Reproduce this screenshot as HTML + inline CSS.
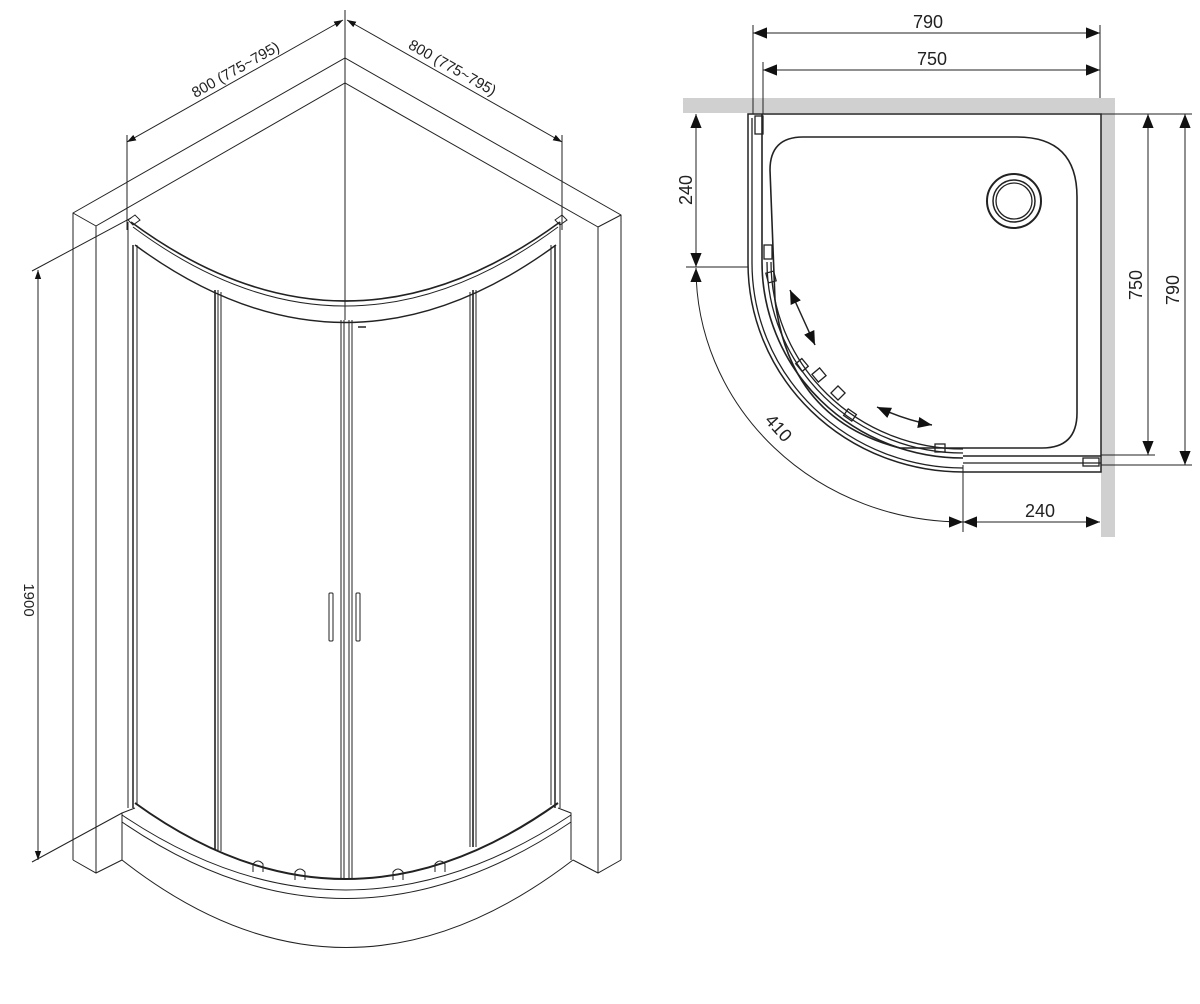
<!DOCTYPE html>
<html><head><meta charset="utf-8"><style>
html,body{margin:0;padding:0;background:#fff;width:1200px;height:1004px;overflow:hidden}
svg{display:block}
text{font-family:"Liberation Sans",sans-serif;fill:#222}
</style></head><body>
<svg width="1200" height="1004" viewBox="0 0 1200 1004" xmlns="http://www.w3.org/2000/svg">
<defs>
<marker id="a" viewBox="0 0 10 10" refX="10" refY="5" markerWidth="9" markerHeight="9" orient="auto-start-reverse" markerUnits="userSpaceOnUse"><path d="M0,1.5 L10,5 L0,8.5z" fill="#111"/></marker>
<marker id="b" viewBox="0 0 10 10" refX="10" refY="5" markerWidth="14" markerHeight="14" orient="auto-start-reverse" markerUnits="userSpaceOnUse"><path d="M0,1 L10,5 L0,9z" fill="#111"/></marker>
</defs>
<g fill="none" stroke="#222" stroke-width="1">
<line x1="345" y1="10" x2="345" y2="320"/>
<line x1="127" y1="135" x2="127" y2="230"/>
<line x1="562" y1="135" x2="562" y2="230"/>
<line x1="127" y1="142" x2="343" y2="20" marker-start="url(#a)" marker-end="url(#a)"/>
<line x1="347" y1="20" x2="562" y2="142" marker-start="url(#a)" marker-end="url(#a)"/>
<polyline points="73,860 73,213 345,58 621,215 621,860"/>
<polyline points="96,873 96,226 345,83 598,227 598,873"/>
<line x1="73" y1="213" x2="96" y2="226"/>
<line x1="621" y1="215" x2="598" y2="227"/>
<polyline points="73,860 96,873 122,860"/>
<polyline points="621,860 598,873 573,860"/>
<line x1="32" y1="271" x2="131" y2="218"/>
<line x1="32" y1="862" x2="122" y2="813"/>
<line x1="38" y1="270" x2="38" y2="860" marker-start="url(#a)" marker-end="url(#a)"/>
<path d="M131,222 Q345,380 560,222" stroke-width="1.6"/>
<path d="M133,227 Q345,385 558,227"/>
<path d="M135,245 Q345,400 556,245" stroke-width="1.4"/>
<path d="M128,220 L135,215 L140,220 L133,225z"/>
<path d="M555,220 L562,215 L567,220 L560,225z"/>
<line x1="128" y1="222" x2="128" y2="808"/>
<line x1="133" y1="245" x2="133" y2="808" stroke-width="1.5"/>
<line x1="137" y1="245" x2="137" y2="805"/>
<line x1="560" y1="222" x2="560" y2="808"/>
<line x1="555" y1="245" x2="555" y2="808" stroke-width="1.5"/>
<line x1="551" y1="245" x2="551" y2="805"/>
<line x1="215" y1="290" x2="215" y2="850" stroke-width="1.6"/>
<line x1="218" y1="290" x2="218" y2="850"/>
<line x1="221" y1="292" x2="221" y2="851"/>
<line x1="470" y1="292" x2="470" y2="847"/>
<line x1="473" y1="290" x2="473" y2="847" stroke-width="1.6"/>
<line x1="476" y1="290" x2="476" y2="847"/>
<line x1="341" y1="320" x2="341" y2="878"/>
<line x1="344" y1="320" x2="344" y2="878"/>
<line x1="349" y1="320" x2="349" y2="878"/>
<line x1="352" y1="320" x2="352" y2="878"/>
<line x1="358" y1="327" x2="366" y2="327" stroke-width="1.5"/>
<rect x="329" y="593" width="4" height="48" rx="1"/>
<rect x="356" y="593" width="4" height="48" rx="1"/>
<path d="M135,803 Q345,955 558,803" stroke-width="2"/>
<polyline points="122,860 122,813 135,808"/>
<polyline points="571,860 571,813 558,808"/>
<path d="M122,815 Q345,965 571,815"/>
<path d="M122,822 Q345,975 571,822"/>
<path d="M122,860 Q345,1035 573,860"/>
<path d="M253,872 l0,-8 q5,-6 10,0 l0,8"/>
<path d="M295,880 l0,-8 q5,-6 10,0 l0,8"/>
<path d="M393,880 l0,-8 q5,-6 10,0 l0,8"/>
<path d="M435,872 l0,-8 q5,-6 10,0 l0,8"/>
</g>
<text transform="translate(238,74) rotate(-29.5)" text-anchor="middle" font-size="15">800 (775~795)</text>
<text transform="translate(450,72) rotate(29.5)" text-anchor="middle" font-size="15">800 (775~795)</text>
<text transform="translate(24,600) rotate(90)" text-anchor="middle" font-size="15">1900</text>

<rect x="683" y="98" width="432" height="15" fill="#d0d0d0"/>
<rect x="1101" y="98" width="14" height="439" fill="#d0d0d0"/>
<g fill="none" stroke="#222" stroke-width="1.3">
<path d="M748,114 L1101,114 L1101,472 L963,472 A215,209 0 0 1 748,263 Z" fill="#fff" stroke-width="1.5"/>
<path d="M752,118 L752,263 A211,205 0 0 0 963,468"/>
<path d="M762,114 L762,262 A201,196 0 0 0 963,458" stroke-width="1.6"/>
<path d="M767,262 A196,191 0 0 0 963,453"/>
<path d="M771,262 A192,187 0 0 0 963,449"/>
<line x1="963" y1="456" x2="1101" y2="456" stroke-width="1.6"/>
<line x1="963" y1="463" x2="1101" y2="463"/>
<path d="M770,170 Q770,137 803,137 L1017,137 Q1077,137 1077,197 L1077,413 Q1077,448 1042,448 L900,448 Q790,420 775,300 Z" stroke-width="1.6"/>
<circle cx="1014" cy="201" r="27" stroke-width="2"/>
<circle cx="1014" cy="201" r="21" stroke-width="1.5"/>
<circle cx="1014" cy="201" r="18"/>
<rect x="755" y="116" width="8" height="18"/>
<rect x="1083" y="458" width="16" height="8"/>
<rect x="764" y="245" width="8" height="14"/>
<rect x="767" y="272" width="8" height="10" transform="rotate(-15 771 277)"/>
<rect x="798" y="360" width="8" height="10" transform="rotate(-40 802 365)"/>
<rect x="814" y="370" width="10" height="10" transform="rotate(-40 819 375)"/>
<rect x="833" y="388" width="10" height="10" transform="rotate(-45 838 393)"/>
<rect x="846" y="410" width="8" height="10" transform="rotate(-55 850 415)"/>
<rect x="935" y="444" width="10" height="8"/>
</g>
<g fill="none" stroke="#222" stroke-width="1">
<line x1="753" y1="25" x2="753" y2="114"/>
<line x1="763" y1="62" x2="763" y2="114"/>
<line x1="1100" y1="25" x2="1100" y2="98"/>
<line x1="753" y1="33" x2="1100" y2="33" marker-start="url(#b)" marker-end="url(#b)"/>
<line x1="763" y1="70" x2="1100" y2="70" marker-start="url(#b)" marker-end="url(#b)"/>
<line x1="1101" y1="114" x2="1192" y2="114"/>
<line x1="1101" y1="455" x2="1155" y2="455"/>
<line x1="1101" y1="465" x2="1192" y2="465"/>
<line x1="1148" y1="114" x2="1148" y2="455" marker-start="url(#b)" marker-end="url(#b)"/>
<line x1="1185" y1="114" x2="1185" y2="465" marker-start="url(#b)" marker-end="url(#b)"/>
<line x1="686" y1="267" x2="748" y2="267"/>
<line x1="696" y1="114" x2="696" y2="267" marker-start="url(#b)" marker-end="url(#b)"/>
<line x1="963" y1="465" x2="963" y2="532"/>
<line x1="963" y1="522" x2="1100" y2="522" marker-start="url(#b)" marker-end="url(#b)"/>
<path d="M696,268 A267,254 0 0 0 963,522" marker-start="url(#b)" marker-end="url(#b)"/>
<line x1="790" y1="290" x2="815" y2="345" stroke-width="1.5" marker-start="url(#b)" marker-end="url(#b)"/>
<path d="M877,407 Q905,420 932,425" stroke-width="1.5" marker-start="url(#b)" marker-end="url(#b)"/>
</g>
<text x="928" y="28" text-anchor="middle" font-size="18">790</text>
<text x="932" y="65" text-anchor="middle" font-size="18">750</text>
<text transform="translate(692,190) rotate(-90)" text-anchor="middle" font-size="18">240</text>
<text transform="translate(1142,285) rotate(-90)" text-anchor="middle" font-size="18">750</text>
<text transform="translate(1179,290) rotate(-90)" text-anchor="middle" font-size="18">790</text>
<text x="1040" y="517" text-anchor="middle" font-size="18">240</text>
<text transform="translate(774,432) rotate(48)" text-anchor="middle" font-size="18">410</text>
</svg>
</body></html>
